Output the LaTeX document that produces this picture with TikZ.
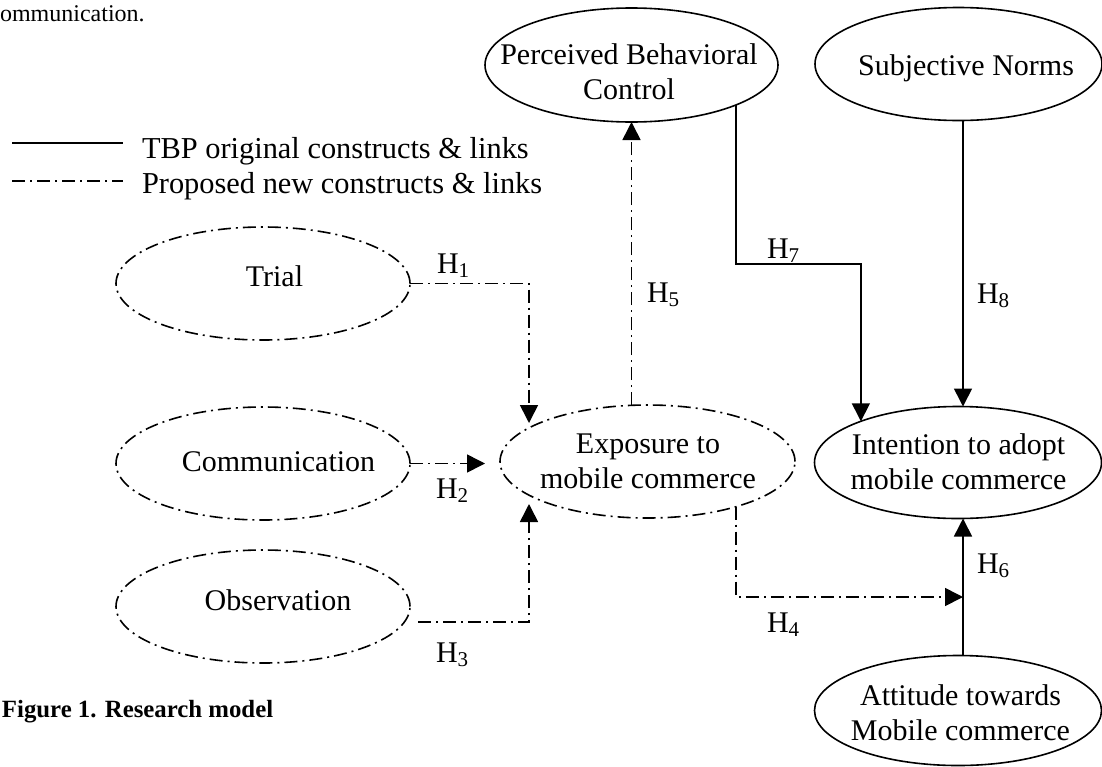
\documentclass[tikz,border=0pt]{standalone}
\usepackage{fontspec}
\setmainfont{Liberation Serif}
\usetikzlibrary{shapes.geometric,arrows.meta,calc}
\begin{document}
\begin{tikzpicture}[x=0.5pt,y=-0.5pt,
  every node/.style={inner sep=0pt, outer sep=0pt},
  construct/.style={ellipse, draw, line width=0.8pt, inner sep=0pt},
  tbpbox/.style={construct},
  dashdot/.style={dash pattern=on 6.5pt off 2.5pt on 1pt off 2.5pt},
  newbox/.style={construct, dashdot},
  lbl/.style={font=\fontsize{15}{17.5}\selectfont, align=center},
  hyp/.style={font=\fontsize{15}{17.5}\selectfont, anchor=base west},
  oldlink/.style={line width=0.8pt, -{Triangle[length=9pt,width=9pt]}},
  newlink/.style={oldlink, dashdot},
]
\useasboundingbox (0,0) rectangle (1102,766);
\fill[white] (0,0) rectangle (1102,766);

% top fragment and caption
\node[anchor=base west, font=\fontsize{12}{14}\selectfont] (topfrag) at (0,21) {ommunication.};
\node[anchor=base west, font=\fontsize{12.4}{15}\selectfont\bfseries] (caption) at (2,717) {Figure 1. Research model};

% legend
\coordinate (l1a) at (12,143); \coordinate (l1b) at (123,143);
\coordinate (l2a) at (12,181); \coordinate (l2b) at (123,181);
\draw[line width=0.8pt] (l1a) -- (l1b);
\draw[line width=0.8pt, dashdot] (l2a) -- (l2b);
\node[hyp, font=\fontsize{15.2}{17.5}\selectfont] (leg1) at (142,158) {TBP original constructs \& links};
\node[hyp, font=\fontsize{15.2}{17.5}\selectfont] (leg2) at (142,193) {Proposed new constructs \& links};

% constructs
\node[tbpbox, minimum width=146.5pt, minimum height=57pt] (pbc) at (631.5,65) {};
\node[lbl] (pbct) at (629,75) {\strut Perceived Behavioral\\\strut Control};
\node[tbpbox, minimum width=143.5pt, minimum height=56.5pt] (sn) at (958.5,64) {};
\node[lbl] (snt) at (966,68) {\strut Subjective Norms};

\node[newbox, minimum width=147pt, minimum height=56.5pt] (trial) at (263,283.5) {};
\node[lbl] (trialt) at (274.5,279) {\strut Trial};
\node[newbox, minimum width=147pt, minimum height=56.5pt] (comm) at (263,463.5) {};
\node[lbl] (commt) at (278.5,464.7) {\strut Communication};
\node[newbox, minimum width=147pt, minimum height=56.5pt] (obs) at (263,606.5) {};
\node[lbl] (obst) at (278,603) {\strut Observation};

\node[newbox, minimum width=147.5pt, minimum height=56.5pt] (expo) at (647.5,461.5) {};
\node[lbl] (expot) at (648,463.5) {\strut Exposure to\\\strut mobile commerce};

\node[tbpbox, minimum width=143.5pt, minimum height=56pt] (int) at (958,462.5) {};
\node[lbl] (intt) at (958.5,464.5) {\strut Intention to adopt\\\strut mobile commerce};
\node[tbpbox, minimum width=143.5pt, minimum height=55pt] (att) at (958,710.5) {};
\node[lbl] (attt) at (960.5,715.5) {\strut Attitude towards\\\strut Mobile commerce};

% connectors
\coordinate (h4end) at (963,597);
\draw[newlink] (trial.east) -| ($(expo.center)+(-118.5,-38.5)$);
\draw[newlink] (comm.east) -- ($(comm.east -| expo.west)+(-15,0)$);
\draw[newlink] ($(obs.east)+(8,15.5)$) -| ($(expo.center)+(-118.5,42.5)$);
\draw[newlink] (pbc.south |- expo.north) -- (pbc.south);
\draw[newlink] (expo.-27.5) |- (h4end);
\draw[oldlink] (att.north -| h4end) -- (int.south -| h4end);
\draw[oldlink] ($(sn.south)+(4.5,0)$) -- ($(int.north)+(5,0)$);
\draw[oldlink] (pbc.-21.8) -- ++(0,159) -| (int.157.3);

% hypothesis labels
\node[hyp] (h1) at (437,273) {H\textsubscript{1}};
\node[hyp] (h2) at (436,498) {H\textsubscript{2}};
\node[hyp] (h3) at (436,662) {H\textsubscript{3}};
\node[hyp] (h4) at (767,632) {H\textsubscript{4}};
\node[hyp] (h5) at (647,302) {H\textsubscript{5}};
\node[hyp] (h6) at (977,573) {H\textsubscript{6}};
\node[hyp] (h7) at (767,258) {H\textsubscript{7}};
\node[hyp] (h8) at (977,303) {H\textsubscript{8}};
\end{tikzpicture}
\end{document}
